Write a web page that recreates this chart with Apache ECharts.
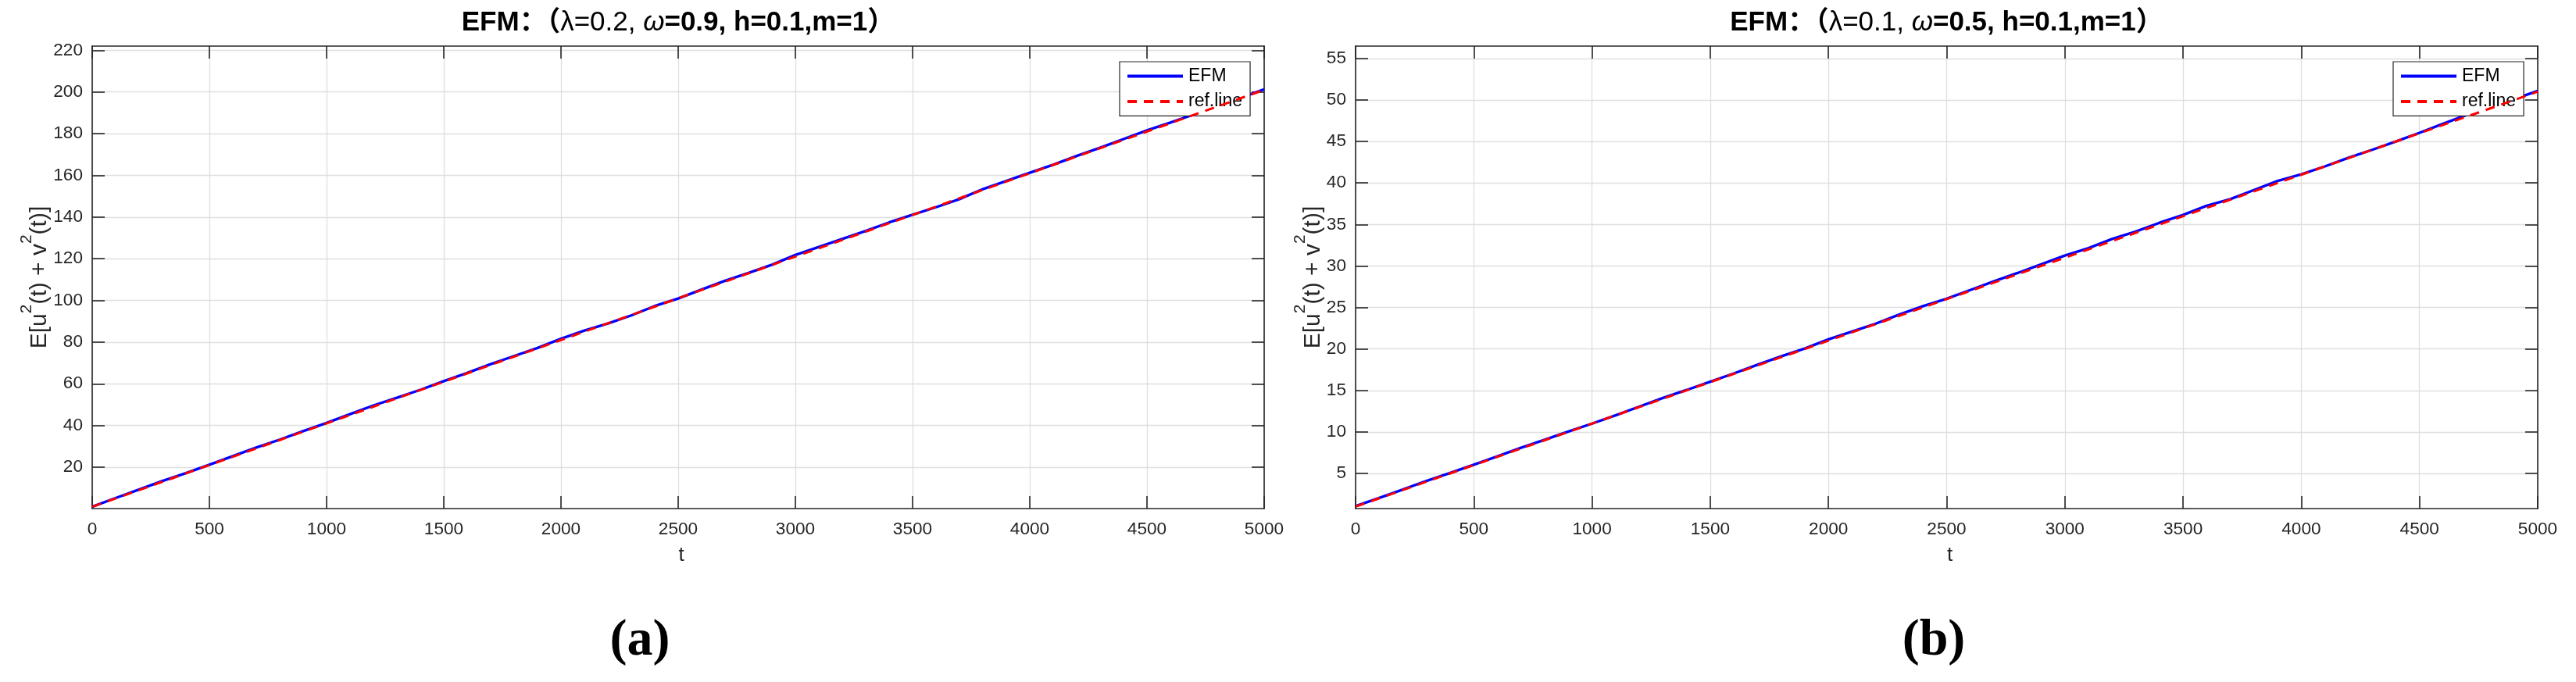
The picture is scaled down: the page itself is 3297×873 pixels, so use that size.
<!DOCTYPE html>
<html><head><meta charset="utf-8">
<script src="https://cdn.jsdelivr.net/npm/echarts@6/dist/echarts.min.js"></script>
<style>html,body{margin:0;padding:0;background:#fff}#c{width:3297px;height:873px}</style>
</head><body><div id="c"></div>
<script>
// ---------- data ----------
const tValues = [0,100,200,300,400,500,600,700,800,900,1000,1100,1200,1300,1400,1500,1600,1700,1800,1900,2000,2100,2200,2300,2400,2500,2600,2700,2800,2900,3000,3100,3200,3300,3400,3500,3600,3700,3800,3900,4000,4100,4200,4300,4400,4500,4600,4700,4800,4900,5000];
const efmA = [1,5.2,9.3,13.4,17.1,21.2,25.3,29.4,33.2,37.3,41.2,45.4,49.6,53.3,57.1,61.3,65.2,69.4,73.3,77.2,81.6,85.5,88.9,92.8,97.3,100.9,105.2,109.4,113.2,117.1,121.8,125.6,129.5,133.3,137.4,141.1,144.7,148.6,153.4,157.3,161.2,165.1,169.3,173.2,177.4,181.6,185.3,189.2,193.1,197.2,201.3];
const refT = [0, 5000];
const refA = [1, 201];
const efmB = [1.05,2.05,3.05,4.1,5.05,6.05,7.05,8.1,9.05,10.05,11.0,12.0,13.05,14.1,15.05,16.05,17.05,18.1,19.1,20.05,21.15,22.1,23.05,24.15,25.15,26.05,27.1,28.15,29.15,30.2,31.25,32.15,33.25,34.15,35.2,36.15,37.25,38.05,39.15,40.25,41.05,42.0,43.05,44.0,45.0,46.05,47.15,48.2,49.15,50.1,51.1];
const refB = [1, 51];
const xTicks = [0,500,1000,1500,2000,2500,3000,3500,4000,4500,5000];
const yTicksA = [20,40,60,80,100,120,140,160,180,200,220];
const yTicksB = [5,10,15,20,25,30,35,40,45,50,55];
const titleA = ['EFM：（', 'λ=0.2, ', 'ω', '=0.9, h=0.1,m=1）'];
const titleB = ['EFM：（', 'λ=0.1, ', 'ω', '=0.5, h=0.1,m=1）'];
const seriesNames = ['EFM', 'ref.line'];
const panelLabels = ['(a)', '(b)'];

// ---------- layout ----------
const FONT = "'Liberation Sans', Arial, Helvetica, 'Noto Sans CJK SC', sans-serif";
const AX = '#262626';
const grids = [
  {left: 118, top: 59, width: 1500, height: 592, ymin: 0.13, ymax: 222, ticks: yTicksA, efm: efmA, ref: refA, title: titleA, ylabX: 45, legX: 1433},
  {left: 1735, top: 59, width: 1513, height: 592, ymin: 0.76, ymax: 56.5, ticks: yTicksB, efm: efmB, ref: refB, title: titleB, ylabX: 1675, legX: 3063}
];

const zip = (xs, ys) => xs.map((x, i) => [x, ys[i]]);
const lineAx = {show: true, onZero: false, lineStyle: {color: AX, width: 1.6}};
const tickIn = {show: true, inside: true, length: 16, lineStyle: {color: AX, width: 1.6}};

const option = {
  animation: false,
  backgroundColor: '#fff',
  grid: grids.map(g => ({left: g.left, top: g.top, width: g.width, height: g.height, containLabel: false})),
  xAxis: [],
  yAxis: [],
  series: [],
  legend: [],
  graphic: []
};

grids.forEach((g, i) => {
  option.xAxis.push({
    type: 'value', gridIndex: i, position: 'bottom', min: 0, max: 5000, interval: 500,
    axisLine: lineAx, axisTick: tickIn,
    axisLabel: {fontSize: 22.6, color: AX, fontFamily: FONT, margin: 15, formatter: v => String(v)},
    splitLine: {show: true, lineStyle: {color: '#dfdfdf', width: 1.3}}
  });
  option.xAxis.push({
    type: 'value', gridIndex: i, position: 'top', min: 0, max: 5000, interval: 500,
    axisLine: lineAx, axisTick: tickIn, axisLabel: {show: false}, splitLine: {show: false}
  });
  option.yAxis.push({
    type: 'value', gridIndex: i, position: 'left', min: g.ymin, max: g.ymax,
    axisLine: lineAx,
    axisTick: Object.assign({}, tickIn, {customValues: g.ticks}),
    axisLabel: {customValues: g.ticks, fontSize: 22.6, color: AX, fontFamily: FONT, margin: 12, formatter: v => String(v)},
    splitLine: {show: true, lineStyle: {color: '#dfdfdf', width: 1.3}}
  });
  option.yAxis.push({
    type: 'value', gridIndex: i, position: 'right', min: g.ymin, max: g.ymax,
    axisLine: lineAx,
    axisTick: Object.assign({}, tickIn, {customValues: g.ticks}),
    axisLabel: {show: false}, splitLine: {show: false}
  });
  option.series.push({
    type: 'line', name: seriesNames[0], xAxisIndex: 2 * i, yAxisIndex: 2 * i,
    data: zip(tValues, g.efm), symbol: 'none', showSymbol: false, z: 3,
    lineStyle: {color: '#0000ff', width: 3.4}, itemStyle: {color: '#0000ff'}
  });
  option.series.push({
    type: 'line', name: seriesNames[1], xAxisIndex: 2 * i, yAxisIndex: 2 * i,
    data: zip(refT, g.ref), symbol: 'none', showSymbol: false, z: 4,
    lineStyle: {color: '#ff0000', width: 3, type: [12, 9]}, itemStyle: {color: '#ff0000'}
  });
  option.legend.push({
    orient: 'vertical', left: g.legX, top: 79, data: seriesNames, selectedMode: false,
    itemWidth: 71, itemHeight: 24, itemGap: 9.4, padding: [7, 10, 7, 8],
    itemStyle: {opacity: 0},
    lineStyle: {width: 4},
    backgroundColor: '#fff', borderColor: AX, borderWidth: 1.2, borderRadius: 0,
    textStyle: {fontSize: 23, color: '#000', fontFamily: FONT, padding: [0, 0, 0, 2]}
  });
  const cx = g.left + g.width / 2;
  option.graphic.push({
    type: 'text', x: cx, y: 29, z: 10,
    style: {
      text: '{b|' + g.title[0] + '}{n|' + g.title[1] + '}{i|' + g.title[2] + '}{b|' + g.title[3] + '}',
      align: 'center', verticalAlign: 'middle',
      rich: {
        b: {fontSize: 35, fontWeight: 'bold', fontFamily: FONT, fill: '#000'},
        n: {fontSize: 35, fontWeight: 'normal', fontFamily: FONT, fill: '#000'},
        i: {fontSize: 35, fontStyle: 'italic', fontFamily: FONT, fill: '#000'}
      }
    }
  });
  option.graphic.push({
    type: 'text', x: g.ylabX, y: g.top + g.height / 2, rotation: Math.PI / 2, z: 10,
    style: {
      text: '{n|E[u}{s|2}{n|(t) + v}{s|2}{n|(t)]}',
      align: 'center', verticalAlign: 'middle',
      rich: {
        n: {fontSize: 30, fontFamily: FONT, fill: AX, lineHeight: 42, verticalAlign: 'bottom'},
        s: {fontSize: 21, fontFamily: FONT, fill: AX, lineHeight: 42, verticalAlign: 'top'}
      }
    }
  });
  option.graphic.push({
    type: 'text', x: cx + 4, y: 711, z: 10,
    style: {text: 't', align: 'center', verticalAlign: 'middle', fontSize: 26, fontFamily: FONT, fill: AX}
  });
  option.graphic.push({
    type: 'text', x: i === 0 ? 819 : 2475, y: 821, z: 10,
    style: {text: panelLabels[i], align: 'center', verticalAlign: 'middle', fontSize: 66, fontWeight: 'bold', fontFamily: "'Liberation Serif', 'Times New Roman', serif", fill: '#000'}
  });
});

const chart = echarts.init(document.getElementById('c'), null, {renderer: 'canvas', width: 3297, height: 873});
chart.setOption(option);
</script>
</body></html>
